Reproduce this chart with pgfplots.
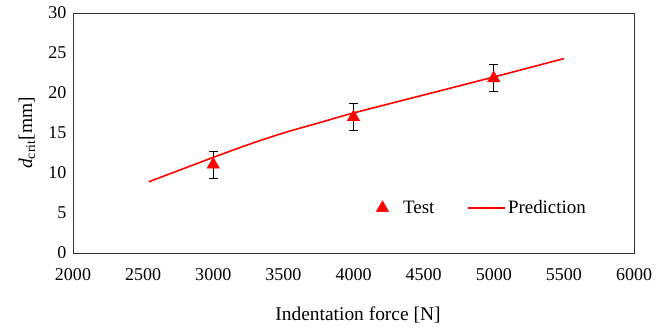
\documentclass[border=0pt]{standalone}
\usepackage{pgfplots}
\pgfplotsset{compat=1.18}
\usepackage{fontspec}
\setmainfont{Liberation Serif}
\pgfplotsset{
  testlegend/.style={legend image code/.code={\path (0bp,0bp) (37bp,0bp); \draw[mark repeat=2,mark phase=2,##1] plot coordinates {(0bp,0bp) (18.5bp,0bp) (37bp,0bp)};}},
  predlegend/.style={legend image code/.code={\draw[##1] (0bp,0bp) -- (37bp,0bp);}},
}
\begin{document}
\begin{tikzpicture}
\begin{axis}[
  scale only axis,
  width=561bp, height=240bp,
  xmin=2000, xmax=6000, ymin=0, ymax=30,
  xtick={2000,2500,...,6000},
  ytick={0,5,...,30},
  major tick length=0pt,
  /pgf/number format/assume math mode=true,
  /pgf/number format/set thousands separator={},
  xticklabel={\pgfmathprintnumber{\tick}},
  yticklabel={\pgfmathprintnumber{\tick}},
  axis line style={draw=black!80, line width=0.9bp},
  tick label style={font=\rmfamily\fontsize{18.07pt}{20pt}\selectfont},
  xticklabel style={anchor=base, yshift=-27.7bp},
  yticklabel style={anchor=east, xshift=-3bp},
  every axis x label/.style={at={(axis description cs:0.508,0)}, anchor=base, yshift=-67bp, font=\rmfamily\fontsize{19.5pt}{22pt}\selectfont},
  every axis y label/.style={at={(axis description cs:-0.082,0.5)}, rotate=90, anchor=center, font=\rmfamily\fontsize{19.5pt}{22pt}\selectfont},
  xlabel={Indentation force [N]},
  ylabel={\textit{d}\textsubscript{crit}[mm]},
  legend columns=2,
  legend style={draw=none, fill=none, at={(axis description cs:0.718,0.1875)}, anchor=center,
    font=\rmfamily\fontsize{19pt}{22pt}\selectfont, /tikz/column 2/.style={column sep=31bp}},
]
\addplot[only marks, mark=triangle*, mark size=7.2bp, color=red, testlegend,
  error bars/.cd, y dir=both, y explicit,
  error bar style={black, line width=0.9bp},
  error mark options={rotate=90, mark size=4.3bp, black, line width=0.9bp},
  ] coordinates {
  (3000,11.05) +- (0,1.69)
  (4000,16.98) +- (0,1.69)
  (5000,21.85) +- (0,1.66)
};
\addlegendentry{Test}
\addplot[red, line width=1.6bp, smooth, mark=none, predlegend] coordinates {
  (2540,8.9) (3000,11.95) (3250,13.55) (3500,15.0) (3750,16.25) (4000,17.5) (4500,19.75) (5000,22.0) (5500,24.3)
};
\addlegendentry{Prediction}
\end{axis}
\path ([shift={(-73bp,-74bp)}]current axis.south west) rectangle ([shift={(34bp,13bp)}]current axis.north east);
\end{tikzpicture}
\end{document}
